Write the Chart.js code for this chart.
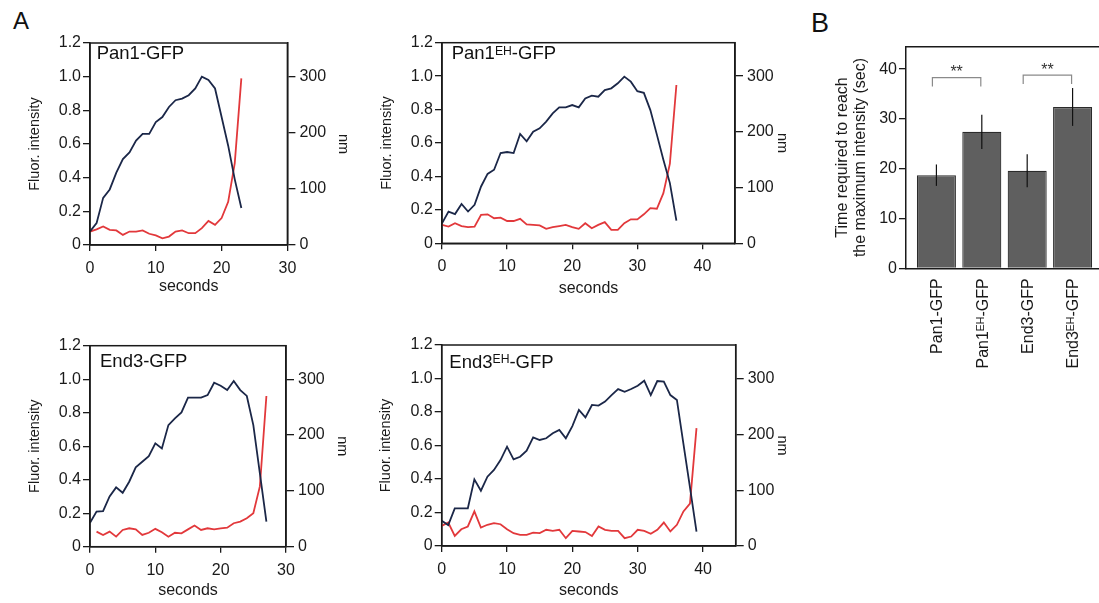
<!DOCTYPE html>
<html>
<head>
<meta charset="utf-8">
<script src="https://cdn.jsdelivr.net/npm/chart.js@4.4.1/dist/chart.umd.min.js"></script>
<style>
  html, body { margin: 0; padding: 0; background: #fff; overflow: hidden; width: 1099px; height: 603px; position: relative;
    font-family: "Liberation Sans", Arial, sans-serif; }
  canvas { position: absolute; }
  .panel-letter { position: absolute; color: #111; line-height: normal; }
</style>
</head>
<body>
<div class="panel-letter" style="left:13px;top:7px;font-size:24px">A</div>
<div class="panel-letter" style="left:811px;top:8px;font-size:27px">B</div>
<canvas id="pan1"></canvas>
<canvas id="pan1eh"></canvas>
<canvas id="end3"></canvas>
<canvas id="end3eh"></canvas>
<canvas id="timeChart"></canvas>
<script>
// ---- Panel A: traces (seconds, normalised fluorescence, movement in nm) ----
const secPan1 = [0,1,2,3,4,5,6,7,8,9,10,11,12,13,14,15,16,17,18,19,20,21,22,23];
const fluorPan1 = [0.08,0.13,0.28,0.33,0.43,0.51,0.55,0.62,0.66,0.66,0.73,0.76,0.82,0.86,0.87,0.89,0.93,1.0,0.98,0.93,0.76,0.59,0.39,0.22];
const nmPan1 = [24,28,33,27,26,18,24,24,26,20,17,12,15,24,26,21,21,30,43,36,48,77,146,297];

const secPan1EH = [0,1,2,3,4,5,6,7,8,9,10,11,12,13,14,15,16,17,18,19,20,21,22,23,24,25,26,27,28,29,30,31,32,33,34,35,36];
const fluorPan1EH = [0.12,0.19,0.175,0.235,0.19,0.23,0.34,0.415,0.44,0.54,0.546,0.54,0.654,0.61,0.668,0.688,0.728,0.777,0.813,0.813,
  0.827,0.813,0.867,0.883,0.877,0.917,0.927,0.957,0.997,0.967,0.91,0.9,0.797,0.65,0.5,0.36,0.136];
const nmPan1EH = [33,30,36,31,29,30,51,52,45,46,40,40,44,34,33,32,26,29,31,33,29,26,36,27,33,38,24,24,36,43,43,52,63,62,90,143,284];

const secEnd3 = [0,1,2,3,4,5,6,7,8,9,10,11,12,13,14,15,16,17,18,19,20,21,22,23,24,25,26,27];
const fluorEnd3 = [0.143,0.21,0.213,0.3,0.354,0.322,0.388,0.474,0.507,0.541,0.617,0.587,0.726,0.766,0.802,0.89,0.89,0.89,0.905,0.979,
  0.961,0.935,0.989,0.935,0.9,0.726,0.438,0.149];
const nmEnd3 = [null,27,21,27,18,30,33,31,21,25,32,26,18,25,24,31,38,30,33,31,33,34,42,45,51,60,108,270];

const secEnd3EH = [0,1,2,3,4,5,6,7,8,9,10,11,12,13,14,15,16,17,18,19,20,21,22,23,24,25,26,27,28,29,30,31,32,33,34,35,36,37,38,39];
const fluorEnd3EH = [0.151,0.125,0.225,0.225,0.225,0.398,0.33,0.414,0.454,0.513,0.593,0.517,0.533,0.569,0.649,0.633,0.643,0.673,0.693,0.643,
  0.716,0.812,0.768,0.842,0.838,0.862,0.901,0.937,0.921,0.937,0.957,0.987,0.901,0.985,0.981,0.901,0.872,0.61,0.35,0.086];
const nmEnd3EH = [36,42,18,30,35,62,33,38,41,39,30,23,20,20,24,23,29,27,29,14,27,26,25,18,35,29,27,27,14,17,29,27,22,29,42,26,38,62,76,211];

const fluorTicks = [0, 0.2, 0.4, 0.6, 0.8, 1.0, 1.2];
const nmTicks = [0, 100, 200, 300];
const secTicks30 = [0, 10, 20, 30];
const secTicks40 = [0, 10, 20, 30, 40];

// ---- Panel B: time to reach maximum intensity ----
const strains = ['Pan1-GFP', 'Pan1<sup>EH</sup>-GFP', 'End3-GFP', 'End3<sup>EH</sup>-GFP'];
const timeToMax = [18.7, 27.4, 19.6, 32.4];
const timeToMaxSd = [2.15, 3.45, 3.3, 3.8];
const timeTicks = [0, 10, 20, 30, 40];
const sigPairs = [[0, 1], [2, 3]];
const sigMarks = ['**', '**'];
const sigLevel = [38.3, 38.8];

const ink = '#1a1a1a';
const navy = '#1b2748';
const red = '#e2383b';
const FONT = '"Liberation Sans", Arial, sans-serif';

Chart.defaults.font.family = FONT;
Chart.defaults.color = ink;

function fontStr(size) {
  return size + 'px ' + FONT;
}

// label text may carry <sup>..</sup> for the EH superscript
function drawRich(ctx, label, x, y, size, align) {
  const parts = label.split(/<sup>|<\/sup>/).map((t, i) => ({ text: t, sup: i % 2 === 1 })).filter(p => p.text);
  const supSize = size * 0.66;
  const widths = parts.map(p => {
    ctx.font = fontStr(p.sup ? supSize : size);
    return ctx.measureText(p.text).width;
  });
  const total = widths.reduce((a, b) => a + b, 0);
  let cx = align === 'right' ? x - total : x;
  ctx.textAlign = 'left';
  ctx.textBaseline = 'alphabetic';
  parts.forEach((p, i) => {
    ctx.font = fontStr(p.sup ? supSize : size);
    ctx.fillText(p.text, cx, p.sup ? y - 0.716 * (size - supSize) : y);
    cx += widths[i];
  });
}

const panels = [
  { id: 'pan1', title: 'Pan1-GFP', sec: secPan1, fluor: fluorPan1, nm: nmPan1, xMax: 30, xTicks: secTicks30,
    box: { left: 0, top: 28, w: 360, h: 276 }, pad: { left: 22, right: 4.6, top: 15, bottom: 4 }, yW: 68, y1W: 68, xH: 55, titleAt: [6.7, 16.3] },
  { id: 'pan1eh', title: 'Pan1<sup>EH</sup>-GFP', sec: secPan1EH, fluor: fluorPan1EH, nm: nmPan1EH, xMax: 45, xTicks: secTicks40,
    box: { left: 355, top: 28, w: 440, h: 276 }, pad: { left: 19, right: 0.6, top: 14.7, bottom: 1.7 }, yW: 68, y1W: 59.4, xH: 59, titleAt: [9.7, 16.6] },
  { id: 'end3', title: 'End3-GFP', sec: secEnd3, fluor: fluorEnd3, nm: nmEnd3, xMax: 30, xTicks: secTicks30,
    box: { left: 0, top: 331, w: 360, h: 276 }, pad: { left: 22, right: 5, top: 14.7, bottom: 3.3 }, yW: 68, y1W: 69, xH: 57, titleAt: [10, 21.6] },
  { id: 'end3eh', title: 'End3<sup>EH</sup>-GFP', sec: secEnd3EH, fluor: fluorEnd3EH, nm: nmEnd3EH, xMax: 45, xTicks: secTicks40,
    box: { left: 355, top: 331, w: 440, h: 276 }, pad: { left: 18.7, right: 0.6, top: 14, bottom: 3 }, yW: 68, y1W: 58.7, xH: 58, titleAt: [7.6, 23] }
];

const framePlugin = {
  id: 'frame',
  afterDraw(chart) {
    const a = chart.chartArea;
    const ctx = chart.ctx;
    ctx.save();
    ctx.strokeStyle = ink;
    ctx.lineWidth = 1.5;
    ctx.strokeRect(a.left, a.top, a.right - a.left, a.bottom - a.top);
    const t = chart.options.plugins.frame;
    ctx.fillStyle = '#111';
    drawRich(ctx, t.title, a.left + t.at[0], a.top + t.at[1], 18.5, 'left');
    ctx.restore();
  }
};

function axisStyle(extra) {
  return Object.assign({
    grid: { drawOnChartArea: false, tickLength: 7, color: ink, lineWidth: 1.3 },
    border: { display: true, color: ink, width: 1.5 },
  }, extra);
}

function makeTraceChart(p) {
  const canvas = document.getElementById(p.id);
  canvas.width = p.box.w;
  canvas.height = p.box.h;
  canvas.style.left = p.box.left + 'px';
  canvas.style.top = p.box.top + 'px';

  return new Chart(canvas, {
    type: 'line',
    data: {
      datasets: [
        { label: 'Fluor. intensity', yAxisID: 'y', borderColor: navy,
          data: p.sec.map((s, i) => ({ x: s, y: p.fluor[i] })) },
        { label: 'nm', yAxisID: 'y1', borderColor: red,
          data: p.sec.map((s, i) => ({ x: s, y: p.nm[i] })) }
      ]
    },
    options: {
      responsive: false,
      animation: false,
      devicePixelRatio: 1,
      layout: { padding: p.pad },
      elements: {
        line: { borderWidth: 1.8, tension: 0, fill: false },
        point: { radius: 0 }
      },
      plugins: {
        legend: { display: false },
        tooltip: { enabled: false },
        frame: { title: p.title, at: p.titleAt }
      },
      scales: {
        x: axisStyle({
          type: 'linear', min: 0, max: p.xMax,
          afterBuildTicks: s => { s.ticks = p.xTicks.map(v => ({ value: v })); },
          afterFit: s => { s.height = p.xH; },
          grid: { drawOnChartArea: false, tickLength: 6, color: ink, lineWidth: 1.3 },
          ticks: { font: { size: 16 }, color: ink, padding: 8, maxRotation: 0, autoSkip: false },
          title: { display: true, text: 'seconds', font: { size: 16 }, color: ink }
        }),
        y: axisStyle({
          position: 'left', min: 0, max: 1.2,
          afterBuildTicks: s => { s.ticks = fluorTicks.map(v => ({ value: v })); },
          afterFit: s => { s.width = p.yW; },
          ticks: { font: { size: 16 }, color: ink, padding: 2, callback: v => v === 0 ? '0' : v.toFixed(1) },
          title: { display: true, text: 'Fluor. intensity', font: { size: 14.5 }, color: ink }
        }),
        y1: axisStyle({
          position: 'right', min: 0, max: 360,
          afterBuildTicks: s => { s.ticks = nmTicks.map(v => ({ value: v })); },
          afterFit: s => { s.width = p.y1W; },
          grid: { drawOnChartArea: false, tickLength: 8, color: ink, lineWidth: 1.3 },
          ticks: { font: { size: 16 }, color: ink, padding: 4 },
          title: { display: true, text: 'nm', font: { size: 14.5 }, color: ink }
        })
      }
    },
    plugins: [framePlugin]
  });
}

panels.forEach(makeTraceChart);

// ---- bar chart ----
const barExtras = {
  id: 'barExtras',
  afterDatasetsDraw(chart) {
    const { ctx, chartArea: a } = chart;
    const xs = chart.scales.x;
    const ys = chart.scales.y;
    ctx.save();

    // top edge of the frame
    ctx.strokeStyle = ink;
    ctx.lineWidth = 1.5;
    ctx.beginPath();
    ctx.moveTo(a.left, a.top);
    ctx.lineTo(chart.width, a.top);
    ctx.stroke();

    // error bars (no caps)
    ctx.strokeStyle = '#111';
    ctx.lineWidth = 1.2;
    timeToMax.forEach((v, i) => {
      const x = xs.getPixelForValue(i + 1);
      ctx.beginPath();
      ctx.moveTo(x, ys.getPixelForValue(v + timeToMaxSd[i]));
      ctx.lineTo(x, ys.getPixelForValue(v - timeToMaxSd[i]));
      ctx.stroke();
    });

    // significance brackets
    sigPairs.forEach((pair, k) => {
      const x0 = xs.getPixelForValue(pair[0] + 1) - 4;
      const x1 = xs.getPixelForValue(pair[1] + 1) - 1;
      const y = ys.getPixelForValue(sigLevel[k]);
      ctx.strokeStyle = '#8a8a8a';
      ctx.lineWidth = 1.2;
      ctx.beginPath();
      ctx.moveTo(x0, y + 9);
      ctx.lineTo(x0, y);
      ctx.lineTo(x1, y);
      ctx.lineTo(x1, y + 9);
      ctx.stroke();
      ctx.fillStyle = '#333';
      ctx.font = fontStr(16);
      ctx.textAlign = 'center';
      ctx.textBaseline = 'alphabetic';
      ctx.fillText(sigMarks[k], (x0 + x1) / 2, y - 0.5);
    });

    // rotated category labels
    ctx.fillStyle = ink;
    strains.forEach((label, i) => {
      const x = xs.getPixelForValue(i + 1);
      ctx.save();
      ctx.translate(x, a.bottom + 10);
      ctx.rotate(-Math.PI / 2);
      drawRich(ctx, label, 0, 0.716 * 16 / 2, 16, 'right');
      ctx.restore();
    });
    ctx.restore();
  }
};

const barCanvas = document.getElementById('timeChart');
barCanvas.width = 308;
barCanvas.height = 360;
barCanvas.style.left = '800px';
barCanvas.style.top = '30px';

new Chart(barCanvas, {
  type: 'bar',
  data: {
    datasets: [{
      data: timeToMax.map((v, i) => ({ x: i + 1, y: v })),
      backgroundColor: '#5f5f5f',
      borderColor: '#2b2b2b',
      borderWidth: 1.2,
      barPercentage: 0.86,
      categoryPercentage: 1
    }]
  },
  options: {
    responsive: false,
    animation: false,
    devicePixelRatio: 1,
    layout: { padding: { left: 30, right: 5, top: 16.7, bottom: 21.7 } },
    plugins: { legend: { display: false }, tooltip: { enabled: false } },
    scales: {
      x: {
        type: 'linear', min: 0.33, max: 4.67, offset: false,
        afterBuildTicks: s => { s.ticks = strains.map((_, i) => ({ value: i + 1 })); },
        afterFit: s => { s.height = 100; },
        ticks: { display: false },
        grid: { display: false, offset: false },
        border: { display: true, color: ink, width: 1.5 }
      },
      y: axisStyle({
        min: 0, max: 44.5,
        afterBuildTicks: s => { s.ticks = timeTicks.map(v => ({ value: v })); },
        afterFit: s => { s.width = 76; },
        ticks: { font: { size: 16 }, color: ink, padding: 2 },
        title: { display: true, text: ['Time required to reach', 'the maximum intensity (sec)'],
          font: { size: 16, lineHeight: 1.1 }, color: ink }
      })
    }
  },
  plugins: [barExtras]
});
</script>
</body>
</html>
